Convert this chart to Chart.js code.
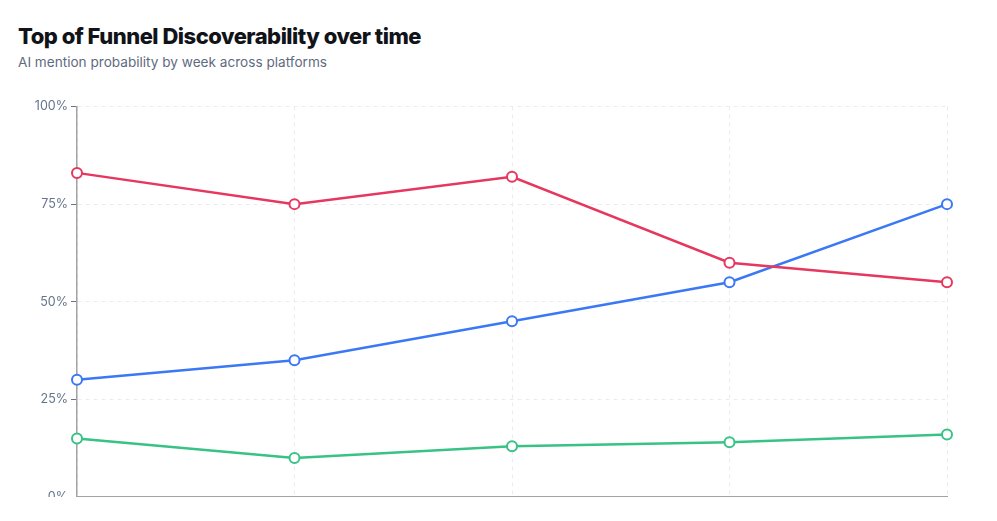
<!DOCTYPE html>
<html>
<head>
<meta charset="utf-8">
<script src="https://cdn.jsdelivr.net/npm/chart.js@4/dist/chart.umd.min.js"></script>
<style>
  html, body { margin: 0; padding: 0; background: #fff; }
  body { width: 997px; height: 521px; overflow: hidden; font-family: Inter, "Noto Sans", sans-serif; }
  .title { position: absolute; left: 18px; top: 23px; font-size: 22px; font-weight: 800; color: #111318; letter-spacing: -0.5px; }
  .subtitle { position: absolute; left: 18px; top: 54px; font-size: 13.6px; color: #5f6b7f; }
  .clip { position: absolute; left: 0; top: 0; width: 997px; height: 497px; overflow: hidden; }
  .chart-box { position: absolute; left: 0; top: 96px; width: 997px; height: 441px; }
</style>
</head>
<body>
<div class="title">Top of Funnel Discoverability over time</div>
<div class="subtitle">AI mention probability by week across platforms</div>
<div class="clip">
  <div class="chart-box"><canvas id="trendChart"></canvas></div>
</div>
<script>
// semaines (étiquettes coupées en bas dans l'original)
const WEEKS = ["Week 1", "Week 2", "Week 3", "Week 4", "Week 5"];
const Y_TICKS = [0, 25, 50, 75, 100];

const CHATGPT = [83, 75, 82, 60, 55];
const PERPLEXITY = [30, 35, 45, 55, 75];
const GEMINI = [15, 10, 13, 14, 16];

const RED = "#e6375f";
const BLUE = "#3b78f5";
const GREEN = "#38c286";

function lineSet(label, data, color) {
  return {
    label,
    data,
    borderColor: color,
    backgroundColor: "#ffffff",
    borderWidth: 2.5,
    tension: 0,
    pointRadius: 5,
    pointBorderWidth: 2,
    pointBackgroundColor: "#ffffff",
    pointBorderColor: color,
  };
}

const grid = "#ebecef";
const tick = "#64748b";

new Chart(document.getElementById("trendChart"), {
  type: "line",
  data: {
    labels: WEEKS,
    datasets: [
      lineSet("ChatGPT", CHATGPT, RED),
      lineSet("Perplexity", PERPLEXITY, BLUE),
      lineSet("Gemini", GEMINI, GREEN),
    ],
  },
  options: {
    responsive: true,
    maintainAspectRatio: false,
    animation: false,
    layout: { padding: { top: 10, right: 50, left: 0, bottom: 0 } },
    plugins: {
      legend: { display: false },
      tooltip: { enabled: false },
    },
    scales: {
      x: {
        offset: false,
        afterFit(scale) { scale.height = 40; },
        grid: { color: grid, drawTicks: false },
        // v4 : border.dash = pointillés des lignes de grille, l'axe reste plein
        border: { display: true, color: "#a3a3a3", width: 1.5, dash: [4, 4] },
        ticks: { color: tick, font: { family: "Inter", size: 12 }, padding: 8 },
      },
      y: {
        min: 0,
        max: 100,
        afterBuildTicks(scale) { scale.ticks = Y_TICKS.map((v) => ({ value: v })); },
        afterFit(scale) { scale.width = 77; },
        grid: { color: grid, tickColor: "#6b7280", tickLength: 6, tickBorderDash: [], drawTicks: true },
        border: { display: true, color: "#a3a3a3", width: 1.5, dash: [4, 4] },
        ticks: {
          color: tick,
          font: { family: "Inter", size: 12.5 },
          padding: 3,
          callback(v) { return v + "%"; },
        },
      },
    },
  },
});
</script>
</body>
</html>
